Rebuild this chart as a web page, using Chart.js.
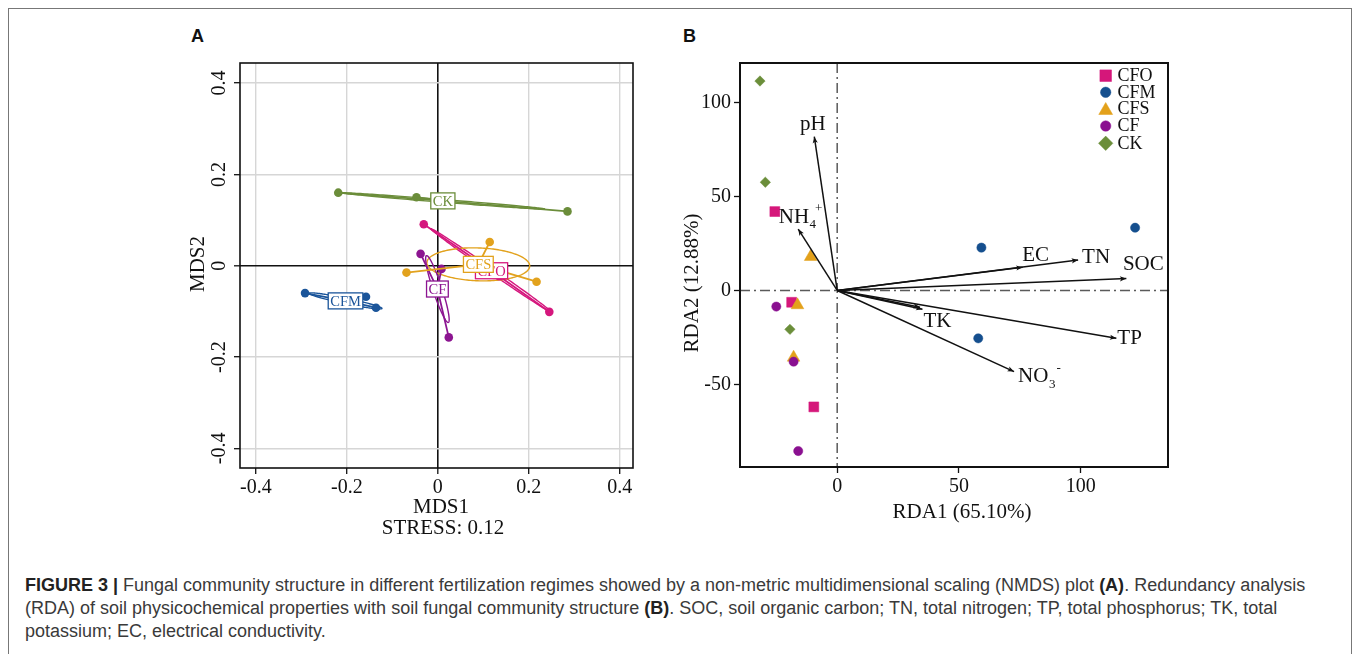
<!DOCTYPE html>
<html><head><meta charset="utf-8">
<script src="https://cdn.jsdelivr.net/npm/chart.js@4.4.1/dist/chart.umd.min.js"></script>
<style>
html,body{margin:0;padding:0;background:#fff;}
body{width:1357px;height:654px;position:relative;overflow:hidden;}
#frame{position:absolute;left:8px;top:8px;width:1344px;height:700px;border:1.5px solid #777;box-sizing:border-box;}
#ca{position:absolute;left:0;top:0;}
#cb{position:absolute;left:680px;top:0;}
.plab{position:absolute;font-family:"Liberation Sans";font-weight:bold;font-size:18px;color:#111;line-height:18px;}
#cap{position:absolute;left:25px;top:574px;font-family:"Liberation Sans";font-size:18px;line-height:23px;color:#3a3a3a;white-space:nowrap;}
#cap b{color:#222;}
</style></head>
<body>
<div id="frame"></div>
<div class="plab" style="left:191px;top:27px;">A</div>
<div class="plab" style="left:683px;top:27px;">B</div>
<canvas id="ca" width="680" height="560"></canvas>
<canvas id="cb" width="677" height="560"></canvas>
<div id="cap"><b>FIGURE 3 |</b> Fungal community structure in different fertilization regimes showed by a non-metric multidimensional scaling (NMDS) plot <b>(A)</b>. Redundancy analysis<br>(RDA) of soil physicochemical properties with soil fungal community structure <b>(B)</b>. SOC, soil organic carbon; TN, total nitrogen; TP, total phosphorus; TK, total<br>potassium; EC, electrical conductivity.</div>
<script>
// ---------------- data ----------------
const groups = ['CFO', 'CFM', 'CFS', 'CF', 'CK'];

// Panel A: NMDS sample scores [MDS1, MDS2]
const nmdsCFO = [[-0.031, 0.091], [0.135, -0.023], [0.245, -0.101]];
const nmdsCFM = [[-0.292, -0.060], [-0.158, -0.068], [-0.136, -0.092]];
const nmdsCFS = [[-0.069, -0.015], [0.114, 0.052], [0.217, -0.035]];
const nmdsCF  = [[-0.038, 0.026], [0.008, -0.007], [0.024, -0.157]];
const nmdsCK  = [[-0.219, 0.160], [-0.047, 0.150], [0.285, 0.119]];
const centroidX = [0.118, -0.203, 0.089, -0.001, 0.011];
const centroidY = [-0.011, -0.077, 0.003, -0.051, 0.142];
const ellipseSemiMajor = [0.162, 0.082, 0.113, 0.077, 0.225];
const ellipseSemiMinor = [0.005, 0.006, 0.036, 0.010, 0.003];
const ellipseAngleDeg = [-34.6, -11.7, -2, -71.8, -4.5];
const nmdsTicks = [-0.4, -0.2, 0, 0.2, 0.4];
const nmdsTickLabels = ['-0.4', '-0.2', '0', '0.2', '0.4'];

// Panel B: RDA site scores [RDA1, RDA2]
const rdaCFO = [[-25.6, 42.0], [-18.7, -6.3], [-9.6, -62.0]];
const rdaCFM = [[59.2, 22.8], [122.3, 33.4], [57.9, -25.5]];
const rdaCFS = [[-10.9, 17.9], [-16.3, -7.8], [-17.9, -35.7]];
const rdaCF  = [[-25.0, -8.6], [-17.9, -37.9], [-16.0, -85.5]];
const rdaCK  = [[-31.7, 111.5], [-29.5, 57.6], [-19.4, -20.7]];
// environmental vectors
const envNames = ['pH', 'NH4+', 'EC', 'TN', 'SOC', 'TK', '', 'TP', 'NO3-'];
const envX = [-9.4, -16.0, 76.1, 98.9, 118.7, 35.0, 34.0, 114.6, 72.6];
const envY = [81.9, 32.7, 12.4, 16.2, 6.3, -10.0, -9.0, -25.5, -43.2];
const rdaXTicks = [0, 50, 100];
const rdaYTicks = [-50, 0, 50, 100];

// ---------------- styles ----------------
const colorsA = ['#d5177d', '#1b559a', '#e2a21d', '#8c1591', '#6b8d3a'];
const colorsB = ['#d5177a', '#154f8e', '#e3a11b', '#8a1090', '#6b8e3a'];
const markerB = ['rect', 'circle', 'triangle', 'circle', 'rectRot'];
const markerRB = [7, 4.6, 7.3, 4.6, 5.2];
const orderB = [5, 4, 3, 2, 1];
const SERIF = '"Liberation Serif", "Times New Roman", serif';
const labelStyle = { // pixel offsets of env labels from arrow tips
  'pH': {dx: -1.5, dy: -12, align: 'center'},
  'NH4+': {dx: -19.5, dy: -12, align: 'left'},
  'EC': {dx: 13, dy: -12, align: 'center'},
  'TN': {dx: 18, dy: -3, align: 'center'},
  'SOC': {dx: 17, dy: -14, align: 'center'},
  'TK': {dx: 15, dy: 12, align: 'center'},
  'TP': {dx: 1, dy: 0.5, align: 'left'},
  'NO3-': {dx: 4, dy: 5, align: 'left'}
};

Chart.defaults.font.family = SERIF;
Chart.defaults.color = '#111';
Chart.defaults.animation = false;

const nmdsSets = [nmdsCFO, nmdsCFM, nmdsCFS, nmdsCF, nmdsCK];
const rdaSets = [rdaCFO, rdaCFM, rdaCFS, rdaCF, rdaCK];

// ---------------- panel A ----------------
function spiderData(pts, cx, cy) {
  const out = [];
  pts.forEach((p, k) => {
    if (k > 0) out.push({x: cx, y: cy});
    out.push({x: p[0], y: p[1]});
  });
  return out;
}

const frameBorder = {
  id: 'frameBorder',
  afterDraw(chart, args, opts) {
    const {ctx, chartArea: a} = chart;
    ctx.save();
    ctx.strokeStyle = '#111';
    ctx.lineWidth = opts.width || 1.5;
    ctx.strokeRect(a.left, a.top, a.right - a.left, a.bottom - a.top);
    ctx.restore();
  }
};

const nmdsDecor = {
  id: 'nmdsDecor',
  beforeDatasetsDraw(chart) {
    const {ctx, chartArea: a, scales: {x, y}} = chart;
    const ppx = Math.abs(x.getPixelForValue(1) - x.getPixelForValue(0));
    const ppy = Math.abs(y.getPixelForValue(1) - y.getPixelForValue(0));
    ctx.save();
    ctx.beginPath(); ctx.rect(a.left, a.top, a.right - a.left, a.bottom - a.top); ctx.clip();
    groups.forEach((g, i) => {
      const cx = x.getPixelForValue(centroidX[i]), cy = y.getPixelForValue(centroidY[i]);
      const th = ellipseAngleDeg[i] * Math.PI / 180;
      const A = ellipseSemiMajor[i], B = ellipseSemiMinor[i];
      ctx.beginPath();
      for (let k = 0; k <= 180; k++) {
        const t = k / 180 * 2 * Math.PI;
        const u = A * Math.cos(t), v = B * Math.sin(t);
        const dx = u * Math.cos(th) - v * Math.sin(th);
        const dy = u * Math.sin(th) + v * Math.cos(th);
        const px = cx + dx * ppx, py = cy - dy * ppy;
        if (k === 0) ctx.moveTo(px, py); else ctx.lineTo(px, py);
      }
      ctx.strokeStyle = colorsA[i];
      ctx.lineWidth = 1.4;
      ctx.stroke();
    });
    ctx.restore();
  },
  afterDatasetsDraw(chart) {
    const {ctx, scales: {x, y}} = chart;
    ctx.save();
    ctx.font = '14.5px ' + SERIF;
    ctx.textAlign = 'center';
    ctx.textBaseline = 'middle';
    [4, 1, 3, 0, 2].forEach(i => {
      const cx = x.getPixelForValue(centroidX[i]), cy = y.getPixelForValue(centroidY[i]);
      const w = ctx.measureText(groups[i]).width;
      ctx.fillStyle = '#fff';
      ctx.fillRect(cx - w / 2 - 2, cy - 8, w + 4, 16);
      ctx.strokeStyle = colorsA[i];
      ctx.lineWidth = 1.3;
      ctx.strokeRect(cx - w / 2 - 2, cy - 8, w + 4, 16);
      ctx.fillStyle = colorsA[i];
      ctx.fillText(groups[i], cx, cy + 1);
    });
    ctx.restore();
  },
  afterDraw(chart) {
    const {ctx, chartArea: a, scales: {y}} = chart;
    ctx.save();
    ctx.fillStyle = '#111';
    ctx.font = '20px ' + SERIF;
    ctx.textAlign = 'center';
    ctx.textBaseline = 'alphabetic';
    y.ticks.forEach((t, k) => {
      const py = y.getPixelForValue(t.value);
      ctx.save();
      ctx.translate(225, py);
      ctx.rotate(-Math.PI / 2);
      ctx.fillText(nmdsTickLabels[nmdsTicks.indexOf(t.value)], 0, 0);
      ctx.restore();
    });
    ctx.font = '21px ' + SERIF;
    ctx.textBaseline = 'middle';
    ctx.fillText('MDS1', 441, 507);
    ctx.fillText('STRESS: 0.12', 443, 528);
    ctx.save();
    ctx.translate(198, 264);
    ctx.rotate(-Math.PI / 2);
    ctx.fillText('MDS2', 0, 0);
    ctx.restore();
    ctx.restore();
  }
};

const gridColorA = c => (c.tick && c.tick.value === 0) ? '#111' : '#d6d6d6';
const gridWidthA = c => (c.tick && c.tick.value === 0) ? 1.6 : 1.4;

new Chart(document.getElementById('ca'), {
  type: 'scatter',
  data: {
    datasets: groups.map((g, i) => ({
      label: g,
      data: spiderData(nmdsSets[i], centroidX[i], centroidY[i]),
      showLine: true,
      borderColor: colorsA[i],
      borderWidth: 1.8,
      backgroundColor: colorsA[i],
      pointBackgroundColor: colorsA[i],
      pointBorderWidth: 0,
      pointRadius: c => (c.dataIndex % 2 === 0 ? 4.3 : 0),
      pointHoverRadius: 0
    }))
  },
  options: {
    responsive: false,
    events: [],
    layout: {padding: {left: 180, top: 63, right: 47, bottom: 0}},
    plugins: {legend: {display: false}, tooltip: {enabled: false}, frameBorder: {width: 1.6}},
    scales: {
      x: {
        type: 'linear', min: -0.435, max: 0.429,
        afterBuildTicks: s => { s.ticks = nmdsTicks.map(v => ({value: v})); },
        afterFit: s => { s.height = 92; },
        border: {display: false},
        grid: {color: gridColorA, lineWidth: gridWidthA, tickColor: '#111', tickLength: 6, tickWidth: 1.3},
        ticks: {font: {size: 20, family: SERIF}, color: '#111', padding: 2,
                callback: (v) => nmdsTickLabels[nmdsTicks.indexOf(v)]}
      },
      y: {
        type: 'linear', min: -0.443, max: 0.444,
        afterBuildTicks: s => { s.ticks = nmdsTicks.map(v => ({value: v})); },
        afterFit: s => { s.width = 60; },
        border: {display: false},
        grid: {color: gridColorA, lineWidth: gridWidthA, tickColor: '#111', tickLength: 6, tickWidth: 1.3},
        ticks: {display: false}
      }
    }
  },
  plugins: [nmdsDecor, frameBorder]
});

// ---------------- panel B ----------------
function drawArrow(ctx, x0, y0, x1, y1) {
  ctx.beginPath(); ctx.moveTo(x0, y0); ctx.lineTo(x1, y1); ctx.stroke();
  const ang = Math.atan2(y1 - y0, x1 - x0), L = 7, H = 0.38;
  ctx.beginPath();
  ctx.moveTo(x1, y1);
  ctx.lineTo(x1 - L * Math.cos(ang - H), y1 - L * Math.sin(ang - H));
  ctx.lineTo(x1 - L * 0.7 * Math.cos(ang), y1 - L * 0.7 * Math.sin(ang));
  ctx.lineTo(x1 - L * Math.cos(ang + H), y1 - L * Math.sin(ang + H));
  ctx.closePath(); ctx.fill();
}

function drawEnvLabel(ctx, name, x, y, align) {
  const main = name.replace(/[0-9][+-]$/, '');
  const m = name.match(/([0-9])([+-])$/);
  ctx.textBaseline = 'middle';
  ctx.font = '21px ' + SERIF;
  if (!m) { ctx.textAlign = align; ctx.fillText(name, x, y); return; }
  ctx.textAlign = 'left';
  ctx.fillText(main, x, y);
  const w = ctx.measureText(main).width;
  ctx.font = '13px ' + SERIF;
  ctx.fillText(m[1], x + w + 0.5, y + 8);
  ctx.fillText(m[2] === '-' ? '-' : '+', x + w + (m[2] === '-' ? 8 : 6), y - 8);
}

const rdaDecor = {
  id: 'rdaDecor',
  beforeDatasetsDraw(chart) {
    const {ctx, chartArea: a, scales: {x, y}} = chart;
    const x0 = x.getPixelForValue(0), y0 = y.getPixelForValue(0);
    ctx.save();
    ctx.strokeStyle = '#5a5a5a';
    ctx.lineWidth = 1.5;
    ctx.setLineDash([10, 4, 2, 4]);
    ctx.beginPath(); ctx.moveTo(a.left, y0); ctx.lineTo(a.right, y0); ctx.stroke();
    ctx.beginPath(); ctx.moveTo(x0, a.top); ctx.lineTo(x0, a.bottom); ctx.stroke();
    ctx.restore();
  },
  afterDatasetsDraw(chart) {
    const {ctx, scales: {x, y}} = chart;
    const x0 = x.getPixelForValue(0), y0 = y.getPixelForValue(0);
    ctx.save();
    ctx.strokeStyle = '#111'; ctx.fillStyle = '#111'; ctx.lineWidth = 1.5;
    envNames.forEach((n, i) => {
      const px = x.getPixelForValue(envX[i]), py = y.getPixelForValue(envY[i]);
      drawArrow(ctx, x0, y0, px, py);
      if (n) {
        const st = labelStyle[n];
        drawEnvLabel(ctx, n, px + st.dx, py + st.dy, st.align);
      }
    });
    ctx.restore();
  },
  afterDraw(chart) {
    const {ctx, chartArea: a} = chart;
    // legend
    ctx.save();
    const lx = 425.7, tx = 437.5, rows = [75.7, 92.3, 109, 126, 143.3];
    groups.forEach((g, i) => {
      ctx.fillStyle = colorsB[i];
      ctx.strokeStyle = colorsB[i];
      ctx.lineWidth = 0.5;
      const r = [8.2, 5.2, 8.0, 5.2, 7.2][i];
      Chart.helpers.drawPoint(ctx, {pointStyle: markerB[i], radius: r, rotation: 0, borderWidth: 0.5}, lx, rows[i] + (markerB[i] === 'triangle' ? 1.5 : 0));
      ctx.fillStyle = '#111';
      ctx.font = '18px ' + SERIF;
      ctx.textAlign = 'left';
      ctx.textBaseline = 'middle';
      ctx.fillText(g, tx, rows[i] + 0.5);
    });
    // axis titles
    ctx.fillStyle = '#111';
    ctx.font = '21px ' + SERIF;
    ctx.textAlign = 'center';
    ctx.textBaseline = 'middle';
    ctx.fillText('RDA1 (65.10%)', 282, 512);
    ctx.translate(12, 283);
    ctx.rotate(-Math.PI / 2);
    ctx.fillText('RDA2 (12.88%)', 0, 0);
    ctx.restore();
  }
};

new Chart(document.getElementById('cb'), {
  type: 'scatter',
  data: {
    datasets: groups.map((g, i) => ({
      label: g,
      data: rdaSets[i].map(p => ({x: p[0], y: p[1]})),
      order: orderB[i],
      pointStyle: markerB[i],
      pointRadius: markerRB[i],
      pointHoverRadius: markerRB[i],
      backgroundColor: colorsB[i],
      borderColor: colorsB[i],
      pointBorderWidth: 0.5
    }))
  },
  options: {
    responsive: false,
    events: [],
    layout: {padding: {left: 0, top: 63, right: 189, bottom: 0}},
    plugins: {legend: {display: false}, tooltip: {enabled: false}, frameBorder: {width: 2}},
    scales: {
      x: {
        type: 'linear', min: -39.9, max: 135.8,
        afterBuildTicks: s => { s.ticks = rdaXTicks.map(v => ({value: v})); },
        afterFit: s => { s.height = 93; },
        border: {display: false},
        grid: {drawOnChartArea: false, color: '#111', tickColor: '#111', tickLength: 6, tickWidth: 1.3},
        ticks: {font: {size: 20, family: SERIF}, color: '#111', padding: 2}
      },
      y: {
        type: 'linear', min: -94.0, max: 121.1,
        afterBuildTicks: s => { s.ticks = rdaYTicks.map(v => ({value: v})); },
        afterFit: s => { s.width = 60; },
        border: {display: false},
        grid: {drawOnChartArea: false, color: '#111', tickColor: '#111', tickLength: 6, tickWidth: 1.3},
        ticks: {font: {size: 20, family: SERIF}, color: '#111', padding: 3}
      }
    }
  },
  plugins: [rdaDecor, frameBorder]
});
</script>
</body></html>
